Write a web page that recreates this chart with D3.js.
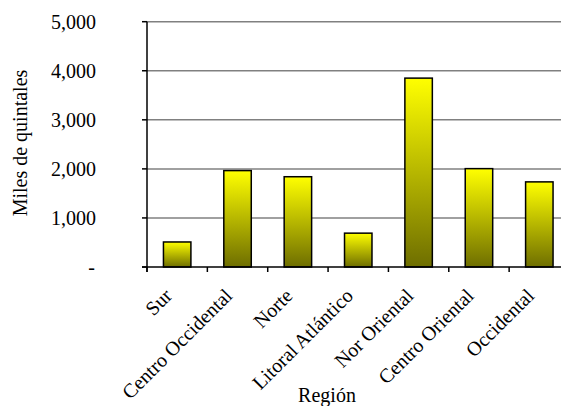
<!DOCTYPE html>
<html><head><meta charset="utf-8">
<script src="https://cdn.jsdelivr.net/npm/d3@7"></script>
</head><body style="margin:0">
<script>
const categories = ["Sur","Centro Occidental","Norte","Litoral Atlántico","Nor Oriental","Centro Oriental","Occidental"];
const values = [510, 1965, 1840, 690, 3850, 2005, 1735];
const yTicks = [0, 1000, 2000, 3000, 4000, 5000];
const yTitle = "Miles de quintales";
const xTitle = "Región";

const W = 561, H = 406;
const svg = d3.select("body").append("svg").attr("width", W).attr("height", H).style("display","block");
const defs = svg.append("defs");
const g = defs.append("linearGradient").attr("id","grad").attr("x1",0).attr("y1",0).attr("x2",0).attr("y2",1);
g.append("stop").attr("offset","0%").attr("stop-color","#ffff00");
g.append("stop").attr("offset","100%").attr("stop-color","#6e6e00");

const x = d3.scaleBand().domain(categories).range([147, 569.5]).paddingInner(0.545).paddingOuter(0.2725);
const y = d3.scaleLinear().domain([0, 5000]).range([267, 21.7]);
const fmt = d => d === 0 ? "-" : d3.format(",")(d);
function txt(sel){ return sel.style("font-family", '"Liberation Serif"').style("font-size", "20px").attr("fill", "#000"); }

// gridlines
svg.append("g").selectAll("line").data(yTicks.filter(d => d > 0)).join("line")
  .attr("x1", 147).attr("x2", W).attr("y1", d => y(d)).attr("y2", d => y(d))
  .attr("stroke", "#808080").attr("stroke-width", 1.5);

// bars
svg.append("g").selectAll("rect").data(values).join("rect")
  .attr("x", (d,i) => x(categories[i])).attr("width", x.bandwidth())
  .attr("y", d => y(d)).attr("height", d => y(0) - y(d))
  .attr("fill", "url(#grad)").attr("stroke", "#000").attr("stroke-width", 1.5);

// y axis (manual)
const ya = svg.append("g");
ya.append("line").attr("x1",147).attr("x2",147).attr("y1",y(5000)).attr("y2",272).attr("stroke","#000").attr("stroke-width",1.5);
ya.selectAll("line.tk").data(yTicks).join("line").attr("class","tk")
  .attr("x1",142).attr("x2",147).attr("y1",d=>y(d)).attr("y2",d=>y(d)).attr("stroke","#000").attr("stroke-width",1.5);
txt(ya.selectAll("text").data(yTicks).join("text")
  .attr("x", d => d === 0 ? 95 : 96).attr("y", d => y(d)).attr("dy","0.35em").attr("text-anchor","end").text(fmt));

// x axis
const xPos = d3.scaleLinear().domain([0, categories.length]).range([147, 569.5]);
const xa = svg.append("g").attr("transform", "translate(0,267)");
xa.append("line").attr("x1", 142).attr("x2", W).attr("y1", 0).attr("y2", 0).attr("stroke", "#000").attr("stroke-width", 1.5);
xa.selectAll("line.tk").data(d3.range(categories.length)).join("line").attr("class","tk")
  .attr("x1", i => xPos(i)).attr("x2", i => xPos(i)).attr("y1", 0).attr("y2", 5)
  .attr("stroke", "#000").attr("stroke-width", 1.5);
txt(xa.selectAll("text").data(categories).join("text")
  .attr("transform", d => `translate(${x(d) + x.bandwidth()/2 - 4},30) rotate(-45)`)
  .attr("text-anchor", "end").text(d => d));

// titles
txt(svg.append("text").attr("transform", "translate(27,143) rotate(-90)").attr("text-anchor","middle").text(yTitle));
txt(svg.append("text").attr("x", 327).attr("y", 402).attr("text-anchor","middle").text(xTitle));
</script></body></html>
